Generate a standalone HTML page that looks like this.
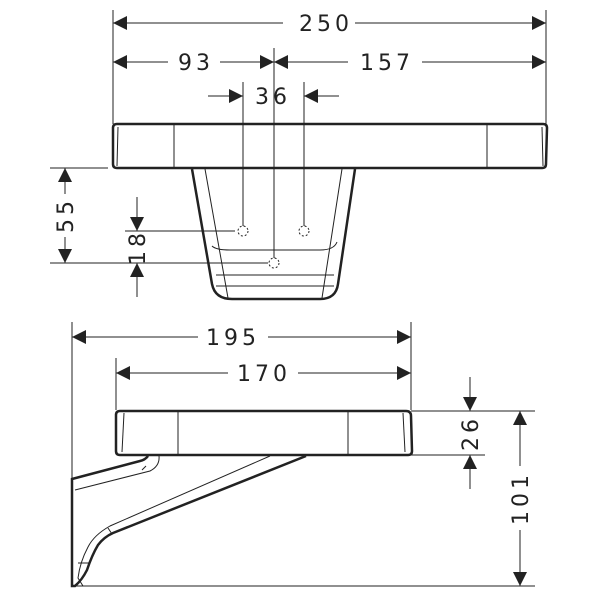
<!DOCTYPE html>
<html><head><style>body{margin:0;background:#fff}svg{display:block}text{font-family:"DejaVu Sans","Liberation Sans",sans-serif;font-size:22px;letter-spacing:4px;fill:#222}</style></head>
<body>
<svg width="600" height="600" viewBox="0 0 600 600" xmlns="http://www.w3.org/2000/svg">
<defs>
<marker id="a" viewBox="0 0 14 14" refX="14" refY="7" markerWidth="14" markerHeight="14" markerUnits="userSpaceOnUse" orient="auto-start-reverse"><path d="M0,0 L14,7 L0,14 z" fill="#222"/></marker>
</defs>
<g stroke="#222" fill="none" stroke-width="1">
<!-- top dims -->
<line x1="113" y1="10" x2="113" y2="124"/><line x1="546" y1="10" x2="546" y2="124"/>
<line x1="113" y1="23" x2="283" y2="23" marker-start="url(#a)"/><line x1="355" y1="23" x2="546" y2="23" marker-end="url(#a)"/>
<line x1="113" y1="62" x2="168" y2="62" marker-start="url(#a)"/><line x1="220" y1="62" x2="274" y2="62" marker-end="url(#a)"/>
<line x1="274" y1="62" x2="348" y2="62" marker-start="url(#a)"/><line x1="422" y1="62" x2="546" y2="62" marker-end="url(#a)"/>
<line x1="274" y1="48" x2="274" y2="258"/>
<line x1="208" y1="96" x2="243" y2="96" marker-end="url(#a)"/><line x1="339" y1="96" x2="304" y2="96" marker-end="url(#a)"/>
<line x1="243" y1="82" x2="243" y2="226"/><line x1="304" y1="82" x2="304" y2="226"/>
<!-- left dims -->
<line x1="50" y1="168" x2="108" y2="168"/><line x1="50" y1="263" x2="268" y2="263"/>
<line x1="125" y1="231" x2="235" y2="231"/>
<line x1="65" y1="168" x2="65" y2="194" marker-start="url(#a)"/><line x1="65" y1="237" x2="65" y2="263" marker-end="url(#a)"/>
<line x1="137" y1="197" x2="137" y2="231" marker-end="url(#a)"/><line x1="137" y1="297" x2="137" y2="263" marker-end="url(#a)"/>
</g>
<text x="0" y="0" text-anchor="middle" transform="translate(326,31)">250</text>
<text x="0" y="0" text-anchor="middle" transform="translate(196,70)">93</text>
<text x="0" y="0" text-anchor="middle" transform="translate(387,70)">157</text>
<text x="0" y="0" text-anchor="middle" transform="translate(273,104)">36</text>
<text text-anchor="middle" transform="translate(73,215) rotate(-90)">55</text>
<text text-anchor="middle" transform="translate(145,247) rotate(-90)">18</text>
<!-- top shelf -->
<g stroke="#222" fill="none">
<path d="M117,124 L543,124 Q547,124 547,128 L546,164 Q546,168 542,168 L117,168 Q113,168 113,164 L113,128 Q113,124 117,124Z" stroke-width="2.5"/>
<line x1="118" y1="127" x2="117" y2="166" stroke-width="1"/><line x1="542" y1="127" x2="543" y2="166" stroke-width="1"/>
<line x1="174" y1="125" x2="174" y2="167"/><line x1="487" y1="125" x2="487" y2="167"/>
<path d="M192,169 L212,284 Q215,299 232,299 L320,299 Q336,299 338,284 L355,169" stroke-width="2.5"/>
<path d="M205,169 L228,298 M342,169 L322,298" stroke-width="1"/>
<path d="M212,246 Q216,250 230,250 L320,250 Q334,250 337,242" stroke-width="1"/>
<line x1="216" y1="275" x2="334" y2="275"/><line x1="216" y1="286" x2="334" y2="286"/>
<g stroke-dasharray="2,2"><circle cx="243" cy="231" r="5"/><circle cx="304" cy="231" r="5"/><circle cx="274" cy="263" r="5"/></g>
</g>
<!-- bottom dims -->
<g stroke="#222" fill="none" stroke-width="1">
<line x1="72" y1="322" x2="72" y2="478"/><line x1="411" y1="322" x2="411" y2="410"/><line x1="116" y1="358" x2="116" y2="410"/>
<line x1="72" y1="337" x2="198" y2="337" marker-start="url(#a)"/><line x1="268" y1="337" x2="411" y2="337" marker-end="url(#a)"/>
<line x1="116" y1="373" x2="228" y2="373" marker-start="url(#a)"/><line x1="298" y1="373" x2="411" y2="373" marker-end="url(#a)"/>
<line x1="411" y1="411" x2="535" y2="411"/><line x1="411" y1="455" x2="485" y2="455"/>
<line x1="470" y1="377" x2="470" y2="411" marker-end="url(#a)"/><line x1="470" y1="489" x2="470" y2="455" marker-end="url(#a)"/>
<line x1="520" y1="411" x2="520" y2="466" marker-start="url(#a)"/><line x1="520" y1="530" x2="520" y2="586" marker-end="url(#a)"/>
<line x1="72" y1="586" x2="535" y2="586"/>
</g>
<text text-anchor="middle" transform="translate(233,345)">195</text>
<text text-anchor="middle" transform="translate(264,381)">170</text>
<text text-anchor="middle" transform="translate(478,433) rotate(-90)">26</text>
<text text-anchor="middle" transform="translate(528,498) rotate(-90)">101</text>
<!-- side view -->
<g stroke="#222" fill="none">
<path d="M120,411 L406,411 Q411,411 411,416 L412,451 Q412,455 408,455 L120,455 Q116,455 116,451 L116,415 Q116,411 120,411Z" stroke-width="2.5"/>
<line x1="124" y1="413" x2="122" y2="452"/><line x1="403" y1="413" x2="405" y2="452"/>
<line x1="178" y1="412" x2="178" y2="454"/><line x1="348" y1="412" x2="348" y2="454"/>
<path d="M148,456 Q145,460 140,461 L72,479 L72,586 L75,586 Q82,580 87,570 Q92,555 98,545 Q104,537 113,533 L306,456" stroke-width="2.5"/>
<path d="M159,456 Q160,466 150,471 L75,490 M270,456 L110,526 Q94,535 88,547 Q80,562 78,578 L83,586 M142,470 L146,466 M108,528 L112,534 M78,563 L90,563" stroke-width="1"/>
</g>
</svg>
</body></html>
